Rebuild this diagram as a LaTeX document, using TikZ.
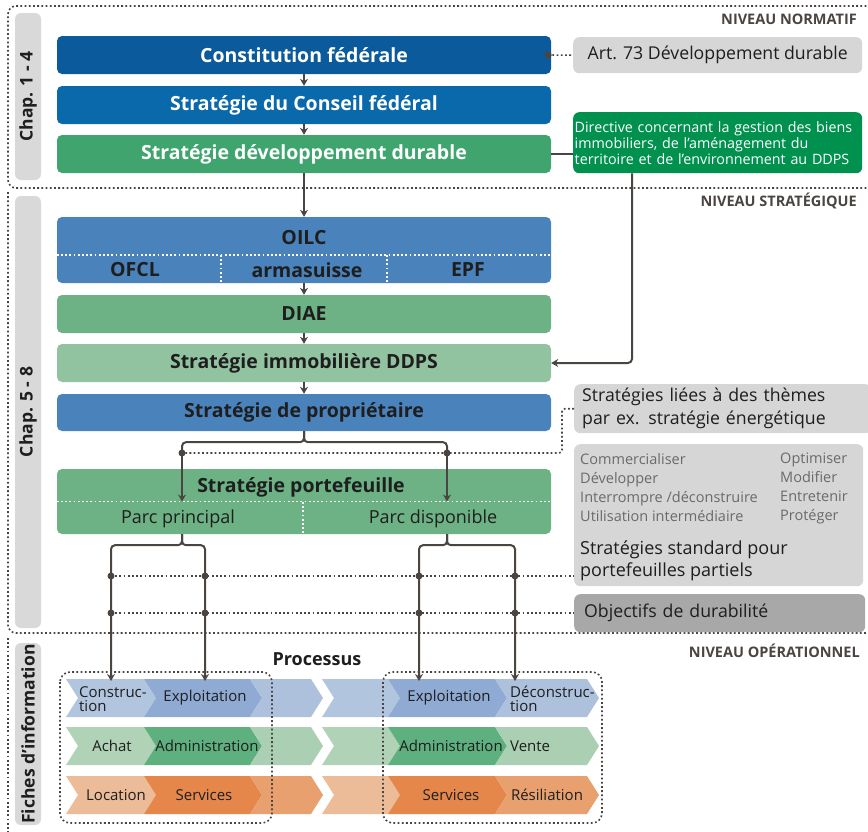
\documentclass[tikz,border=0pt]{standalone}
\usepackage{fontspec}
\setmainfont{Open Sans}
\usetikzlibrary{arrows.meta,positioning}

\definecolor{blueA}{HTML}{0B5A9C}
\definecolor{blueB}{HTML}{0A69AA}
\definecolor{blueC}{HTML}{4A83BC}
\definecolor{greenA}{HTML}{40A46E}
\definecolor{greenB}{HTML}{00914F}
\definecolor{greenC}{HTML}{6CB284}
\definecolor{greenE}{HTML}{92C3A1}
\definecolor{greyA}{HTML}{D6D6D6}
\definecolor{greyB}{HTML}{A8A8A8}
\definecolor{greyT}{HTML}{D9D9D9}
\definecolor{ink}{HTML}{4B4541}
\definecolor{txtdark}{HTML}{1E1E1E}
\definecolor{txtgrey}{HTML}{6A6A6A}
\definecolor{blueL}{HTML}{B2C5DF}
\definecolor{blueM}{HTML}{ADC1DD}
\definecolor{blueD}{HTML}{8FABD3}
\definecolor{greenL}{HTML}{B0D2B7}
\definecolor{greenM}{HTML}{AACFB2}
\definecolor{greenD}{HTML}{5FB07F}
\definecolor{orangeL}{HTML}{ECBC99}
\definecolor{orangeM}{HTML}{E8A06F}
\definecolor{orangeD}{HTML}{E5874A}

\tikzset{
  mainbox/.style={rounded corners=5pt, minimum width=494pt, minimum height=38pt,
    inner sep=0pt, text=txtdark, font=\fontsize{19.5}{22}\selectfont\bfseries},
  sidebox/.style={rounded corners=6pt, minimum width=289pt, inner sep=0pt,
    anchor=north west, fill=greyA, text=txtdark, font=\fontsize{17.7}{23}\selectfont},
  tab/.style={fill=greyT, rounded corners=6pt, rotate=90, minimum height=26pt,
    inner sep=0pt, text=txtdark, font=\fontsize{17.5}{19}\selectfont\bfseries},
  niv/.style={anchor=east, inner sep=0pt, text=ink,
    font=\fontsize{14.5}{16}\selectfont\bfseries},
  lbl/.style={inner sep=0pt, text=txtdark, font=\fontsize{19.5}{22}\selectfont\bfseries},
  chtxt/.style={inner sep=0pt, text=txtdark, font=\fontsize{15}{14}\selectfont},
  conn/.style={ink, line width=2pt},
  arr/.style={conn, -{Stealth[length=7pt,width=8pt]}},
  dotconn/.style={ink, line width=1.6pt, dash pattern=on 1.8pt off 2.4pt},
  frame/.style={ink, line width=1.6pt, dash pattern=on 1.8pt off 2.4pt, rounded corners=8pt},
  wdots/.style={white, line width=1.6pt, dash pattern=on 1.8pt off 2.4pt},
}

\begin{document}
\begin{tikzpicture}[x=1pt,y=-1pt]

% Parametres
\def\rad{3.5pt}
\def\chh{38}
\def\tip{12}
\def\chev#1#2#3#4{\fill[#4] (#1,#3) -- (#2,#3) -- ++(\tip,\chh/2) -- ++(-\tip,\chh/2)
  -- (#1,#3+\chh) -- ++(\tip,-\chh/2) -- cycle;}

\useasboundingbox (0,0) rectangle (868,831);
\clip (0,0) rectangle (868,831);

% ---------- Cadres des trois niveaux ----------
\draw[frame] (900,6) -| (8,188) -- (900,188);
\draw[frame] (8,192) |- (900,633);
\draw[frame] (8,638) -- (8,900);
\node[niv] (nivN) at (857,19) {NIVEAU NORMATIF};
\node[niv] (nivS) at (857,201) {NIVEAU STRATÉGIQUE};
\node[niv] (nivO) at (860,651) {NIVEAU OPÉRATIONNEL};

\node[tab, minimum width=167pt] (tab1) at (28,96.5) {Chap. 1 - 4};
\node[tab, minimum width=432pt] (tab2) at (28,412) {Chap. 5 - 8};
\node[tab, minimum width=182pt] (tab3) at (28,734) {Fiches d'information};

% ---------- Niveau normatif ----------
\node[mainbox, fill=blueA, text=white] (const) at (304,55) {Constitution fédérale};
\node[mainbox, fill=blueB, text=white] (conseil) at (304,105) {Stratégie du Conseil fédéral};
\node[mainbox, fill=greenA, text=white] (sdd) at (304,154) {Stratégie développement durable};

\node[sidebox, minimum height=36pt] (art) at (573,37) {Art. 73 Développement durable};
\node[sidebox, fill=greenB, minimum height=61pt, text=white, align=left,
  text width=286pt, inner xsep=1.5pt, font=\fontsize{14.3}{16}\selectfont] (dir) at (573,112)
  {Directive concernant la gestion des biens\\immobiliers, de l’aménagement du\\territoire et de l’environnement au DDPS};

\draw[arr] (const) -- (conseil);
\draw[arr] (conseil) -- (sdd);
\draw[dotconn] ([xshift=-3pt]const.east) -- (art.west);
\fill[ink] ([xshift=-3pt]const.east) circle (\rad);
\draw[conn] (sdd.east) -- (sdd.east -| dir.west);

% ---------- Niveau strategique ----------
\node[mainbox, fill=blueC, minimum height=66pt] (oilc) at (304,250) {};
\draw[wdots] ([yshift=-5pt]oilc.west) -- ([yshift=-5pt]oilc.east);
\draw[wdots] (221,255) -- (221,283);
\draw[wdots] (387,255) -- (387,283);
\node[lbl] (oilcT) at (304,238) {OILC};
\node[lbl] (ofcl) at (135,270) {OFCL};
\node[lbl] (armas) at (307,270) {armasuisse};
\node[lbl] (epf) at (468,270) {EPF};

\node[mainbox, fill=greenC] (diae) at (304,314) {DIAE};
\node[mainbox, fill=greenE] (immo) at (304,363) {Stratégie immobilière DDPS};
\node[mainbox, fill=blueC, minimum height=37pt] (prop) at (304,412.5) {Stratégie de propriétaire};

\node[mainbox, fill=greenC, minimum height=65pt] (pf) at (304,501.5) {};
\draw[wdots] (pf.west) -- (pf.east);
\draw[wdots] (303,502) -- (303,534);
\node[lbl] (pfT) at (301,487) {Stratégie portefeuille};
\node[lbl, font=\fontsize{18}{20}\selectfont] (pp) at (178,519) {Parc principal};
\node[lbl, font=\fontsize{18}{20}\selectfont] (pd) at (433,519) {Parc disponible};

\draw[arr] (sdd) -- (oilc);
\draw[arr] (oilc) -- (diae);
\draw[arr] (diae) -- (immo);
\draw[arr] (immo) -- (prop);
\draw[arr, rounded corners=4pt] ([xshift=59pt]dir.south west) |- (immo.east);

\node[sidebox, minimum height=49pt, align=left, text width=281pt, inner xsep=8pt] (themes)
  at (574,384) {Stratégies liées à des thèmes\\par ex. stratégie énergétique};
\node[sidebox, minimum height=142pt] (std) at (574,444) {};
\node[anchor=north west, inner sep=0pt, align=left, text=txtgrey,
  font=\fontsize{14.5}{19}\selectfont] (stdL) at (580,453)
  {Commercialiser\\Développer\\Interrompre /déconstruire\\Utilisation intermédiaire};
\node[anchor=north west, inner sep=0pt, align=left, text=txtgrey,
  font=\fontsize{14.5}{19}\selectfont] (stdR) at (780,453)
  {Optimiser\\Modifier\\Entretenir\\Protéger};
\node[anchor=north west, inner sep=0pt, align=left, text=txtdark,
  font=\fontsize{18}{22}\selectfont] (stdT) at (580,540)
  {Stratégies standard pour\\portefeuilles partiels};
\node[sidebox, fill=greyB, minimum height=38pt, align=left, text width=271pt,
  inner xsep=10pt] (obj) at (574,594) {Objectifs de durabilité};

% branches vers les parcs
\coordinate (brL) at (182,453);
\coordinate (brR) at (447,453);
\draw[conn, rounded corners=4pt] (prop.south) -- ++(0,11) -| (brL);
\draw[conn, rounded corners=4pt] (prop.south) -- ++(0,11) -| (brR);
\draw[dotconn, rounded corners=3pt] (themes.west) -- ++(-12,0) |- (brR) -- (brL);
\draw[arr] (brL) -- (brL |- pf.center);
\draw[arr] (brR) -- (brR |- pf.center);
\fill[ink] (brL) circle (\rad);
\fill[ink] (brR) circle (\rad);

% ---------- Niveau operationnel ----------
\node[font=\fontsize{18}{20}\selectfont\bfseries, text=txtdark] (proc) at (317,659) {Processus};

\foreach \y/\cl/\cd/\cm in {679/blueL/blueD/blueM,727/greenL/greenD/greenM,776/orangeL/orangeD/orangeM}{
  \chev{66}{144}{\y}{\cl}
  \chev{144}{250}{\y}{\cd}
  \chev{250}{311}{\y}{\cm}
  \chev{322}{388}{\y}{\cl}
  \chev{388}{495}{\y}{\cd}
  \chev{495}{587}{\y}{\cm}
}

\node[chtxt, align=left, anchor=west] (cons) at (79,699) {Construc-\\tion};
\node[chtxt] (expl1) at (205,698) {Exploitation};
\node[chtxt] (expl2) at (449,698) {Exploitation};
\node[chtxt, align=left, anchor=west] (decons) at (510,699) {Déconstruc-\\tion};
\node[chtxt] (achat) at (112,746) {Achat};
\node[chtxt] (adm1) at (207,746) {Administration};
\node[chtxt] (adm2) at (451,746) {Administration};
\node[chtxt, anchor=west] (vente) at (510,746) {Vente};
\node[chtxt] (loc) at (116,795) {Location};
\node[chtxt] (serv1) at (204,795) {Services};
\node[chtxt] (serv2) at (451,795) {Services};
\node[chtxt] (resil) at (547,795) {Résiliation};

\draw[frame, rounded corners=10pt] (60,672) rectangle (272,823);
\draw[frame, rounded corners=10pt] (383,672) rectangle (602,823);

% fleches vers les processus
\coordinate (tA) at (111,681);
\coordinate (tB) at (205,681);
\coordinate (tC) at (419,681);
\coordinate (tD) at (515,681);
\draw[arr, rounded corners=4pt] (pf.south -| brL) -- ++(0,11) -| (tA);
\draw[arr, rounded corners=4pt] (pf.south -| brL) -- ++(0,11) -| (tB);
\draw[arr, rounded corners=4pt] (pf.south -| brR) -- ++(0,11) -| (tC);
\draw[arr, rounded corners=4pt] (pf.south -| brR) -- ++(0,11) -| (tD);

\coordinate (dA) at (111,576);
\coordinate (dB) at (111,613);
\draw[dotconn] (dA) -- (dA -| std.west);
\draw[dotconn] (dB) -- (dB -| obj.west);
\foreach \x in {111,205,419,515}{
  \fill[ink] (\x,576) circle (\rad);
  \fill[ink] (\x,613) circle (\rad);
}

\end{tikzpicture}
\end{document}
